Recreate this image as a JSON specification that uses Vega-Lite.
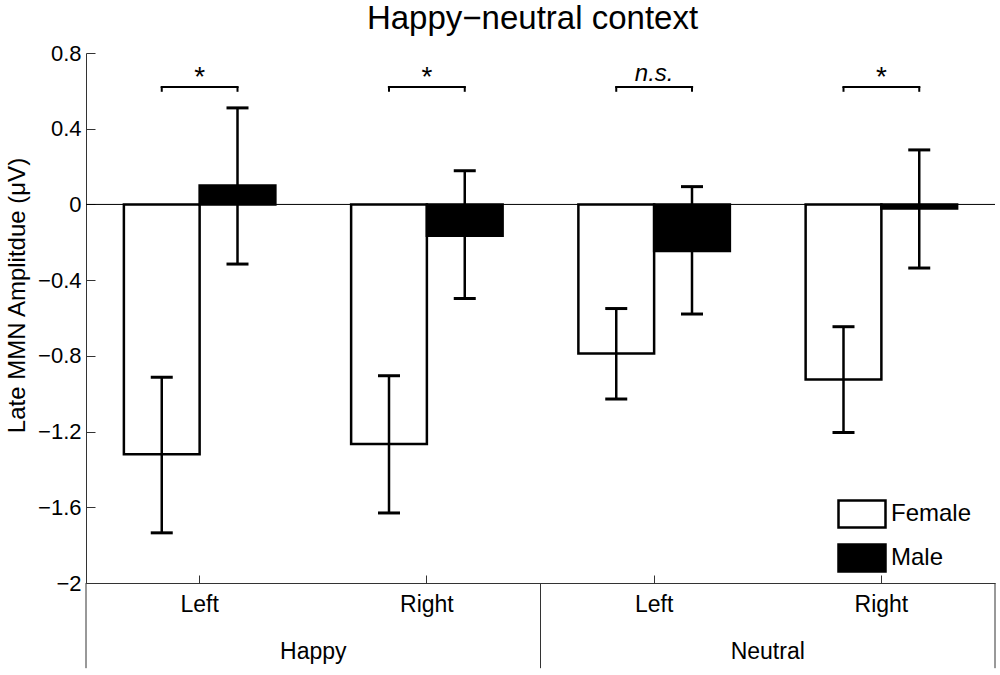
{
  "$schema": "https://vega.github.io/schema/vega-lite/v6.json",
  "width": 909,
  "height": 530,
  "autosize": "none",
  "padding": {"left": 86, "top": 53, "right": 5, "bottom": 92},
  "title": {
    "text": "Happy−neutral context",
    "font": "Liberation Sans",
    "fontSize": 33,
    "fontWeight": "normal",
    "color": "black",
    "anchor": "middle",
    "frame": "group",
    "baseline": "alphabetic",
    "offset": 0,
    "dy": 20,
    "dx": -8
  },
  "config": {
    "view": {"stroke": null},
    "font": "Liberation Sans",
    "axis": {"grid": false, "labelFont": "Liberation Sans", "titleFont": "Liberation Sans"}
  },
  "datasets": {
    "bars": [
      {"cond": "Happy Left", "sex": "Female", "mean": -1.32, "lo": -1.735, "hi": -0.913},
      {"cond": "Happy Left", "sex": "Male", "mean": 0.10, "lo": -0.315, "hi": 0.51},
      {"cond": "Happy Right", "sex": "Female", "mean": -1.265, "lo": -1.63, "hi": -0.905},
      {"cond": "Happy Right", "sex": "Male", "mean": -0.165, "lo": -0.497, "hi": 0.178},
      {"cond": "Neutral Left", "sex": "Female", "mean": -0.788, "lo": -1.028, "hi": -0.55},
      {"cond": "Neutral Left", "sex": "Male", "mean": -0.246, "lo": -0.579, "hi": 0.094},
      {"cond": "Neutral Right", "sex": "Female", "mean": -0.925, "lo": -1.205, "hi": -0.646},
      {"cond": "Neutral Right", "sex": "Male", "mean": -0.022, "lo": -0.336, "hi": 0.288}
    ],
    "sig": [
      {"cond": "Happy Left", "sig": "*"},
      {"cond": "Happy Right", "sig": "*"},
      {"cond": "Neutral Left", "sig": "n.s."},
      {"cond": "Neutral Right", "sig": "*"}
    ],
    "groups": [
      {"cond": "Happy Right", "group": "Happy"},
      {"cond": "Neutral Right", "group": "Neutral"}
    ],
    "leftEdges": [
      {"cond": "Happy Left"},
      {"cond": "Neutral Left"}
    ],
    "rightEdges": [
      {"cond": "Neutral Right"}
    ]
  },
  "layer": [
    {
      "data": {"values": [{}]},
      "mark": {"type": "rule", "color": "black", "strokeWidth": 1},
      "encoding": {"y": {"datum": 0, "type": "quantitative"}}
    },
    {
      "data": {"name": "bars"},
      "mark": {"type": "bar", "stroke": "black", "strokeWidth": 2.5, "opacity": 1},
      "encoding": {
        "x": {
          "field": "cond",
          "type": "nominal",
          "scale": {"paddingInner": 0, "paddingOuter": 0},
          "axis": {
            "title": null,
            "labelExpr": "split(datum.label, ' ')[1]",
            "labelAngle": 0,
            "labelFontSize": 23,
            "labelColor": "black",
            "labelPadding": 18,
            "tickSize": -8,
            "tickColor": "#333",
            "domainColor": "#333"
          }
        },
        "xOffset": {
          "field": "sex",
          "type": "nominal",
          "scale": {"paddingInner": 0, "paddingOuter": 0.5}
        },
        "y": {
          "field": "mean",
          "type": "quantitative",
          "scale": {"domain": [-2, 0.8], "nice": false, "zero": false},
          "axis": {
            "values": [-2, -1.6, -1.2, -0.8, -0.4, 0, 0.4, 0.8],
            "format": "~g",
            "title": "Late MMN Amplitdue (μV)",
            "titleFontSize": 24,
            "titleFontWeight": "normal",
            "titleColor": "black",
            "titlePadding": 8,
            "titleY": 242,
            "labelFontSize": 22,
            "labelColor": "black",
            "labelPadding": 14,
            "tickSize": -9,
            "tickColor": "#333",
            "domainColor": "#333"
          }
        },
        "fill": {
          "field": "sex",
          "type": "nominal",
          "scale": {"domain": ["Female", "Male"], "range": ["white", "black"]},
          "legend": {
            "title": null,
            "orient": "none",
            "legendX": 751,
            "legendY": 436,
            "symbolType": "M-1,-0.57H1V0.57H-1Z",
            "symbolSize": 2209,
            "symbolStrokeColor": "black",
            "symbolStrokeWidth": 2.5,
            "symbolOpacity": 1,
            "labelFont": "Liberation Sans",
            "labelFontSize": 24,
            "labelColor": "black",
            "labelOffset": 4,
            "rowPadding": -11
          }
        }
      }
    },
    {
      "data": {"name": "bars"},
      "mark": {"type": "rule", "color": "black", "strokeWidth": 2.5},
      "encoding": {
        "x": {"field": "cond", "type": "nominal"},
        "xOffset": {"field": "sex", "type": "nominal"},
        "y": {"field": "lo", "type": "quantitative"},
        "y2": {"field": "hi"}
      }
    },
    {
      "data": {"name": "bars"},
      "mark": {"type": "tick", "color": "black", "size": 22, "thickness": 3, "opacity": 1},
      "encoding": {
        "x": {"field": "cond", "type": "nominal"},
        "xOffset": {"field": "sex", "type": "nominal"},
        "y": {"field": "lo", "type": "quantitative"}
      }
    },
    {
      "data": {"name": "bars"},
      "mark": {"type": "tick", "color": "black", "size": 22, "thickness": 3, "opacity": 1},
      "encoding": {
        "x": {"field": "cond", "type": "nominal"},
        "xOffset": {"field": "sex", "type": "nominal"},
        "y": {"field": "hi", "type": "quantitative"}
      }
    },
    {
      "data": {"name": "bars"},
      "mark": {"type": "rule", "color": "black", "strokeWidth": 2},
      "encoding": {
        "x": {"field": "cond", "type": "nominal"},
        "xOffset": {"field": "sex", "type": "nominal"},
        "y": {"datum": 0.62, "type": "quantitative"},
        "y2": {"datum": 0.595}
      }
    },
    {
      "data": {"name": "sig"},
      "mark": {"type": "tick", "color": "black", "size": 78, "thickness": 2, "opacity": 1},
      "encoding": {
        "x": {"field": "cond", "type": "nominal"},
        "y": {"datum": 0.62, "type": "quantitative"}
      }
    },
    {
      "data": {"name": "sig"},
      "transform": [{"filter": "datum.sig == '*'"}],
      "mark": {"type": "text", "fontSize": 28, "color": "black", "baseline": "alphabetic"},
      "encoding": {
        "x": {"field": "cond", "type": "nominal"},
        "y": {"datum": 0.625, "type": "quantitative"},
        "text": {"field": "sig"}
      }
    },
    {
      "data": {"name": "sig"},
      "transform": [{"filter": "datum.sig != '*'"}],
      "mark": {"type": "text", "fontSize": 24, "fontStyle": "italic", "color": "black", "baseline": "alphabetic"},
      "encoding": {
        "x": {"field": "cond", "type": "nominal"},
        "y": {"datum": 0.652, "type": "quantitative"},
        "text": {"field": "sig"}
      }
    },
    {
      "data": {"name": "leftEdges"},
      "mark": {"type": "rule", "color": "#333", "strokeWidth": 1},
      "encoding": {
        "x": {"field": "cond", "type": "nominal", "bandPosition": 0},
        "y": {"datum": -2, "type": "quantitative"},
        "y2": {"datum": -2.45}
      }
    },
    {
      "data": {"name": "rightEdges"},
      "mark": {"type": "rule", "color": "#333", "strokeWidth": 1},
      "encoding": {
        "x": {"field": "cond", "type": "nominal", "bandPosition": 1},
        "y": {"datum": -2, "type": "quantitative"},
        "y2": {"datum": -2.45}
      }
    },
    {
      "data": {"name": "groups"},
      "mark": {"type": "text", "fontSize": 23, "color": "black", "baseline": "alphabetic"},
      "encoding": {
        "x": {"field": "cond", "type": "nominal", "bandPosition": 0},
        "y": {"datum": -2.4, "type": "quantitative"},
        "text": {"field": "group"}
      }
    }
  ]
}
